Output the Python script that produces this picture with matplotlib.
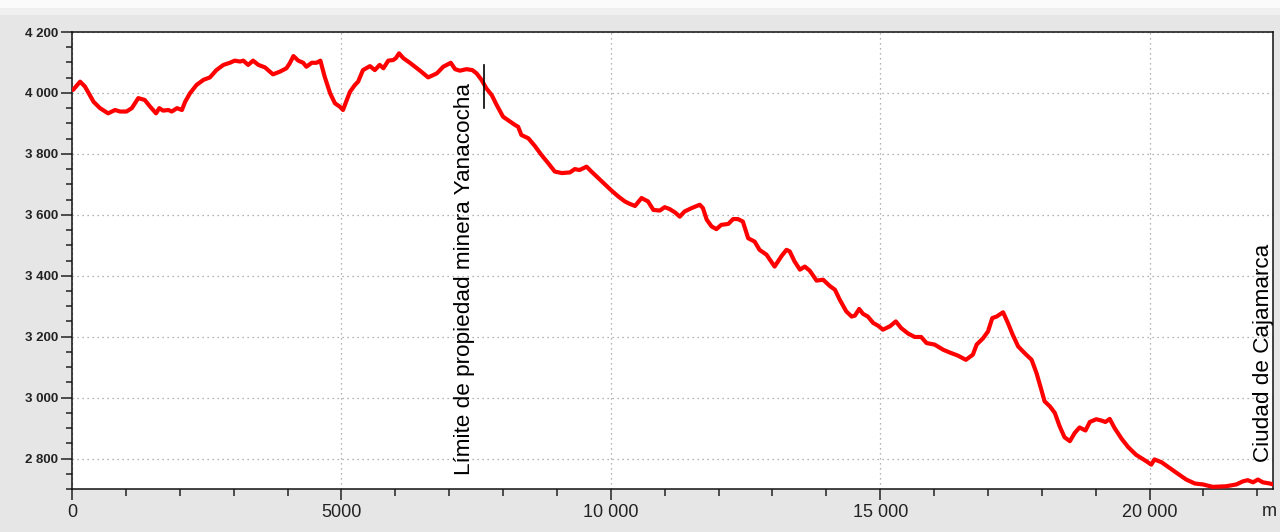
import matplotlib
matplotlib.use("Agg")
import matplotlib.pyplot as plt
from matplotlib.ticker import MultipleLocator, FixedLocator
from matplotlib.patches import Rectangle

# Distance along profile (m)
distance = [20, 150, 240, 400, 520, 670, 800, 890, 1010, 1110, 1230, 1350, 1450, 1560,
            1620, 1690, 1790, 1850, 1950, 2040, 2100, 2190, 2310, 2440, 2560, 2680, 2810,
            2930, 3020, 3120, 3180, 3270, 3360, 3460, 3580, 3730, 3860, 3980, 4040, 4110,
            4200, 4290, 4350, 4450, 4540, 4610, 4690, 4790, 4880, 4970, 5030, 5100,
            5160, 5250, 5310, 5400, 5530, 5620, 5710, 5780, 5870, 5960, 6010, 6070, 6150,
            6270, 6460, 6610, 6770, 6890, 7030, 7110, 7200, 7320, 7430, 7510, 7600, 7690,
            7790, 7880, 8000, 8130, 8220, 8280, 8340, 8470, 8590, 8710, 8840, 8960, 9090,
            9240, 9330, 9420, 9550, 9640, 9760, 9890, 10010, 10140,
            10260, 10350, 10450, 10570, 10690, 10790, 10910, 11000, 11090, 11190, 11280,
            11370, 11500, 11650, 11710, 11780, 11870, 11960, 12050, 12180, 12270, 12360,
            12450, 12550, 12670, 12760, 12890, 13040, 13170, 13260, 13320, 13410, 13510,
            13600, 13690, 13820, 13940, 14060, 14160, 14250, 14370, 14470, 14530, 14610,
            14680, 14770, 14870, 14960,
            15050, 15180, 15290, 15390, 15520, 15640, 15760, 15860, 16010, 16170, 16290,
            16440, 16590, 16720, 16790, 16910, 17000, 17080, 17160, 17280, 17370, 17460,
            17560, 17680, 17810, 17900, 17990, 18050, 18150, 18240, 18330, 18420, 18520,
            18610, 18700, 18810, 18890, 19010, 19100, 19180, 19260, 19350, 19480, 19600,
            19750, 19940, 20030, 20090, 20220, 20340, 20500, 20680, 20840, 20990, 21170,
            21420, 21610, 21730, 21820, 21920, 22010, 22100, 22230, 22290]

# Elevation (m)
elevation = [4010, 4037, 4021, 3971, 3950, 3933, 3944, 3939, 3939, 3950, 3983, 3977, 3955, 3933,
             3950, 3942, 3944, 3939, 3950, 3944, 3971, 3999, 4026, 4043, 4051, 4075, 4092,
             4099, 4106, 4103, 4106, 4092, 4106, 4092, 4084, 4061, 4070, 4081, 4097, 4121,
             4106, 4099, 4086, 4099, 4099, 4106, 4053, 3999, 3966, 3955, 3944, 3977,
             4004, 4026, 4037, 4075, 4088, 4075, 4092, 4081, 4106, 4108, 4114, 4130, 4114,
             4099, 4073, 4051, 4064, 4086, 4099, 4078, 4073, 4078, 4075, 4064, 4043, 4015,
             3993, 3961, 3922, 3906, 3895, 3889, 3862, 3851, 3826, 3797, 3769, 3742, 3737,
             3739, 3750, 3747, 3758, 3742, 3722, 3700, 3680, 3660,
             3644, 3636, 3629, 3655, 3644, 3616, 3614, 3625, 3619, 3608, 3594,
             3611, 3622, 3633, 3622, 3584, 3562, 3553, 3567, 3570, 3586, 3586,
             3578, 3523, 3512, 3485, 3469, 3430, 3465, 3485, 3480, 3447, 3420,
             3430, 3417, 3384, 3387, 3367, 3354, 3321, 3283, 3266, 3269, 3291,
             3275, 3266, 3245, 3236,
             3223, 3234, 3250, 3228, 3210, 3199, 3199, 3179, 3174, 3157, 3148,
             3138, 3124, 3141, 3174, 3195, 3217, 3261, 3266, 3280, 3245, 3206,
             3168, 3146, 3124, 3081, 3026, 2988, 2971, 2950, 2906, 2870, 2857,
             2884, 2902, 2892, 2920, 2929, 2925, 2920, 2930, 2900, 2865, 2838,
             2812, 2791, 2780, 2797, 2788, 2773, 2753, 2731, 2718, 2715, 2707,
             2709, 2715, 2725, 2729, 2722, 2731, 2722, 2718, 2715]

x_ticks = [0, 5000, 10000, 15000, 20000]
x_tick_labels = ["0", "5000", "10 000", "15 000", "20 000"]
y_ticks = [2800, 3000, 3200, 3400, 3600, 3800, 4000, 4200]
y_tick_labels = ["2 800", "3 000", "3 200", "3 400", "3 600", "3 800", "4 000", "4 200"]

mine_label = "Límite de propiedad minera Yanacocha"
mine_x = 7644
mine_marker = [3951, 4092]
city_label = "Ciudad de Cajamarca"

plt.rcParams['font.family'] = ['Liberation Sans', 'DejaVu Sans']

fig = plt.figure(figsize=(12.8, 5.32), dpi=100, facecolor="#e6e6e6")
# top light strips
fig.patches.append(Rectangle((0, 1 - 15 / 532), 1, 15 / 532, transform=fig.transFigure,
                             facecolor="#f0f0f0", edgecolor="none", zorder=-1))
fig.patches.append(Rectangle((0, 1 - 8 / 532), 1, 8 / 532, transform=fig.transFigure,
                             facecolor="#fbfbfb", edgecolor="none", zorder=-1))

ax = fig.add_axes([72 / 1280, 1 - 489 / 532, (1273 - 72) / 1280, (489 - 32) / 532])
ax.set_facecolor("white")

ax.plot(distance, elevation, color="#ff0000", lw=3.0, solid_joinstyle="round",
        solid_capstyle="round", zorder=3)

ax.set_xlim(0, 22290)
ax.set_ylim(2700, 4200)

ax.xaxis.set_major_locator(FixedLocator(x_ticks))
ax.set_xticklabels(x_tick_labels)
ax.xaxis.set_minor_locator(MultipleLocator(1000))
ax.yaxis.set_major_locator(FixedLocator(y_ticks))
ax.set_yticklabels(y_tick_labels)
ax.yaxis.set_minor_locator(MultipleLocator(50))

ax.tick_params(axis="x", which="major", length=8, width=1.1, labelsize=13, pad=3,
               colors="#222222")
ax.tick_params(axis="x", which="minor", length=5, width=1.1, color="#222222")
ax.tick_params(axis="y", which="major", length=8, width=1.1, labelsize=9.5, pad=2,
               colors="#222222")
ax.tick_params(axis="y", which="minor", length=4.5, width=1.1, color="#222222")
for lab in ax.get_yticklabels():
    lab.set_fontweight("bold")

ax.grid(True, which="major", color="#9a9a9a", linestyle=(0, (1, 3)), lw=0.9)
for s in ax.spines.values():
    s.set_linewidth(1.1)
    s.set_color("#111111")

ax.plot([mine_x, mine_x], mine_marker, color="black", lw=1.2, zorder=4)
ax.text(7290, 2747, mine_label, rotation=90, ha="center", va="bottom",
        fontsize=16.2, color="black", zorder=4)
ax.text(22110, 2787, city_label, rotation=90, ha="center", va="bottom",
        fontsize=16.2, color="black", zorder=4, clip_on=False)

fig.text(1262 / 1280, 1 - 512 / 532, "m", fontsize=13, ha="left", va="center",
         color="#222222")

fig.savefig("out.png", dpi=100, facecolor=fig.get_facecolor())
